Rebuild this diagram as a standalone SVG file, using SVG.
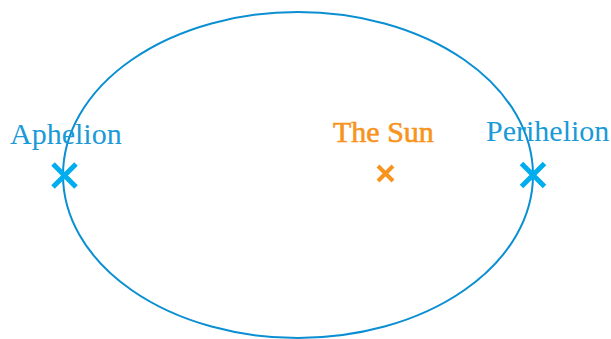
<svg xmlns="http://www.w3.org/2000/svg" width="611" height="339" viewBox="0 0 611 339">
<style>
.lbl{font-family:"Liberation Serif","Times New Roman",serif;font-size:30px}
.blue{fill:#1a9ad7}
.orange{fill:#f7941d;stroke:#f7941d;stroke-width:0.6}
.xb{stroke:#00aeef;stroke-width:5;stroke-linecap:butt}
.xo{stroke:#f7941d;stroke-width:4}
</style>
<rect width="611" height="339" fill="#ffffff"/>
<g id="orbit">
<ellipse cx="298" cy="175" rx="235" ry="163" fill="none" stroke="#0b8fd3" stroke-width="2"/>
</g>
<g id="aphelion">
<text class="lbl blue" x="10" y="144">Aphelion</text>
<path class="xb" d="M53,164 L76,187 M76,164 L53,187"/>
</g>
<g id="sun">
<text class="lbl orange" x="333" y="142">The Sun</text>
<path class="xo" d="M378,166 L393,181 M393,166 L378,181"/>
</g>
<g id="perihelion">
<text class="lbl blue" x="486" y="141">Perihelion</text>
<path class="xb" d="M521.5,163.5 L544.5,186.5 M544.5,163.5 L521.5,186.5"/>
</g>
</svg>
